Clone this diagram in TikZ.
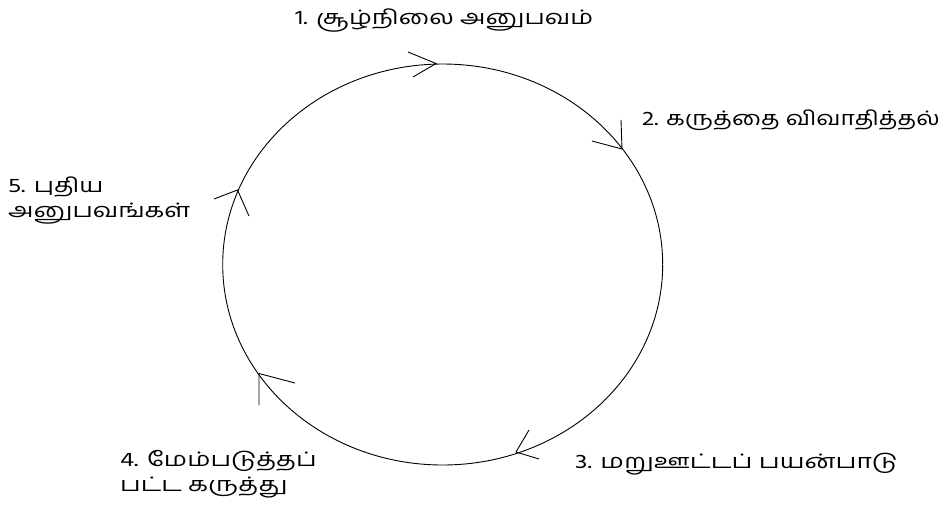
\documentclass[tikz,border=0pt]{standalone}
\usepackage{fontspec}
\newfontfamily\tamil[Script=Tamil]{Hind Madurai}
\newcommand{\lbltext}[2][1.27]{\scalebox{#1}[1]{\begin{tabular}{@{}l@{}}#2\end{tabular}}}
\begin{document}
\begin{tikzpicture}[x=1pt,y=-1pt,
  cyc/.style={line width=0.9pt,black},
  lbl/.style={anchor=west,inner sep=0pt,font=\tamil\fontsize{20}{25}\selectfont}]
\useasboundingbox (0,0) rectangle (948,512);
% cycle
\draw[cyc] (442.7,264.5) ellipse [x radius=220, y radius=200.5];
% arrowheads (tip, barbs)
\coordinate (t1) at (436,63.5);  \coordinate (a1) at (408,52);   \coordinate (b1) at (413,77);
\coordinate (t2) at (622,149);   \coordinate (a2) at (621,120);  \coordinate (b2) at (592,141);
\coordinate (t3) at (516,452);   \coordinate (a3) at (529,430);  \coordinate (b3) at (539,459);
\coordinate (t4) at (259,373.5); \coordinate (a4) at (259,405);  \coordinate (b4) at (295,383);
\coordinate (t5) at (237.5,190); \coordinate (a5) at (214,199);  \coordinate (b5) at (249,216);
\foreach \i in {1,...,5}{\draw[cyc] (a\i) -- (t\i) -- (b\i);}
% labels
\node[lbl] (l1) at (295,20) {\lbltext[1.28]{1. சூழ்நிலை அனுபவம்}};
\node[lbl] (l2) at (642,120) {\lbltext[1.22]{2. கருத்தை விவாதித்தல்}};
\node[lbl] (l3) at (575,463) {\lbltext[1.32]{3. மறுஊட்டப் பயன்பாடு}};
\node[lbl] (l4) at (120,474) {\lbltext[1.3]{4. மேம்படுத்தப்\\பட்ட கருத்து}};
\node[lbl] (l5) at (8,200) {\lbltext[1.28]{5. புதிய\\அனுபவங்கள்}};
\end{tikzpicture}
\end{document}
